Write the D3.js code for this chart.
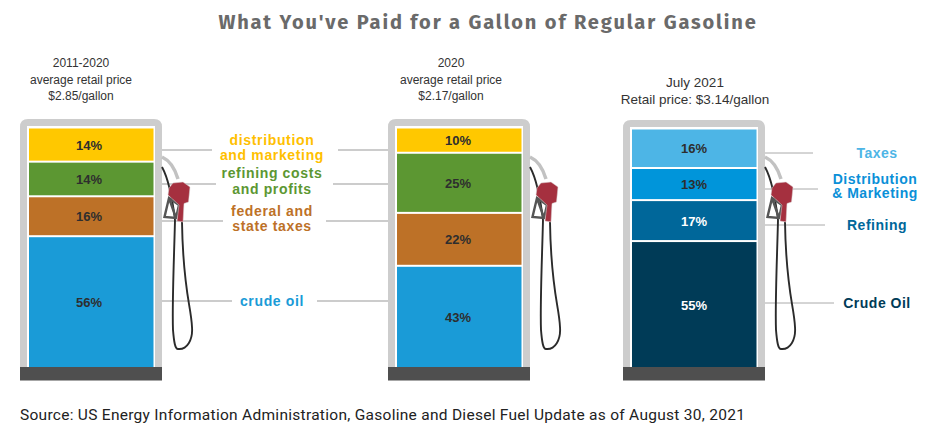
<!DOCTYPE html>
<html><head><meta charset="utf-8">
<script src="https://cdn.jsdelivr.net/npm/d3@7"></script>
<style>html,body{margin:0;padding:0;background:#fff}svg{display:block}</style>
</head><body><svg id="c" width="946" height="437"></svg>
<script>
// top-to-bottom order in each pump
const pumpHeads = [
  ["2011-2020","average retail price","$2.85/gallon"],
  ["2020","average retail price","$2.17/gallon"],
  ["July 2021","Retail price: $3.14/gallon"]
];
const labels2011 = ["14%","14%","16%","56%"];
const labels2020 = ["10%","25%","22%","43%"];
const labels2021 = ["16%","13%","17%","55%"];
// segment heights (drawn slightly off the printed labels)
const drawn2011 = [14.2,14.4,16.6,54.8];
const drawn2020 = [10.5,25,22,42.5];
const drawn2021 = [16.5,13.4,17.1,53];
const colors2011 = ["#ffc800","#5c9732","#bd7127","#1a9bd7"];
const colors2021 = ["#4db5e6","#0095da","#00679a","#003b57"];
const textColors2011 = ["#2e2e2e","#2e2e2e","#2e2e2e","#2e2e2e"];
const textColors2021 = ["#2e2e2e","#2e2e2e","#fff","#fff"];
const midLabels = [["distribution","and marketing"],["refining costs","and profits"],["federal and","state taxes"],["crude oil"]];
const midColors = ["#ffc000","#5c9732","#bd7127","#1a9bd7"];
const rightLabels = [["Taxes"],["Distribution","& Marketing"],["Refining"],["Crude Oil"]];
const rightColors = ["#4db5e6","#0a90d8","#00679a","#003b57"];
const sourceText = "Source: US Energy Information Administration, Gasoline and Diesel Fuel Update as of August 30, 2021";
const titleText = "What You've Paid for a Gallon of Regular Gasoline";

const svg = d3.select("#c");
svg.append("text").attr("x",488).attr("y",29).attr("text-anchor","middle")
  .attr("font-family","'Fira Sans','Noto Sans',sans-serif").attr("font-weight",700).attr("font-size",20)
  .attr("letter-spacing",1.85).attr("fill","#6a6a6a").text(titleText);

const pumps = [
  {x:20, top:119, drawn:drawn2011, labels:labels2011, colors:colors2011, tc:textColors2011, head:pumpHeads[0], headY:67, hx:81, hs:12, lx:89},
  {x:388,top:119, drawn:drawn2020, labels:labels2020, colors:colors2011, tc:textColors2011, head:pumpHeads[1], headY:67, hx:451, hs:12, lx:458},
  {x:623,top:120, drawn:drawn2021, labels:labels2021, colors:colors2021, tc:textColors2021, head:pumpHeads[2], headY:87, hx:695, hs:13.5, lx:694}
];

// leader lines drawn first, under the pumps
const grey = "#bbb";
const rows = [150,184,221,301];
const mid = [[162,212,338,388],[162,216,333,388],[162,223,326,388],[162,232,317,388]];
const rowsR = [153,189,225,303];
const right = [813,818,825,834];
rows.forEach((ry,i)=>{
  [[mid[i][0],mid[i][1]],[mid[i][2],mid[i][3]]].forEach(s=>
    svg.append("line").attr("x1",s[0]).attr("x2",s[1]).attr("y1",ry).attr("y2",ry).attr("stroke",grey).attr("stroke-width",1.5));
  svg.append("line").attr("x1",765).attr("x2",right[i]).attr("y1",rowsR[i]).attr("y2",rowsR[i]).attr("stroke","#aaa").attr("stroke-width",1);
});

pumps.forEach(p=>{
  const g = svg.append("g");
  const inTop = p.top+9.5, inBot = 369;
  // housing
  g.append("path").attr("fill","#cdcdcd").attr("d",
    `M${p.x},367 V${p.top+8} Q${p.x},${p.top} ${p.x+8},${p.top} H${p.x+134} Q${p.x+142},${p.top} ${p.x+142},${p.top+8} V367 Z`);
  g.append("rect").attr("x",p.x+7).attr("y",p.top+7).attr("width",128).attr("height",367-p.top-7).attr("fill","#fff");
  g.append("rect").attr("x",p.x).attr("y",367).attr("width",142).attr("height",13.5).attr("fill","#4f4f4f");

  // stack: first category on top, so the scale runs downward
  const order = p.labels.map((_,i)=>i);
  const stacked = d3.stack().keys(order).value((d,k)=>d[k])([p.drawn]);
  const y = d3.scaleLinear().domain([0,d3.sum(p.drawn)]).range([inTop,inBot]);
  const x = d3.scaleBand().domain([0]).range([p.x+9,p.x+133.5]);
  stacked.forEach((s,i)=>{
    const y0 = y(s[0][0]), y1 = y(s[0][1])-2;
    g.append("rect").attr("x",x(0)).attr("width",x.bandwidth())
      .attr("y",y0).attr("height",y1-y0).attr("fill",p.colors[i]);
    g.append("text").attr("x",p.lx).attr("y",(y0+y1)/2+5)
      .attr("text-anchor","middle").attr("font-family","'Liberation Sans',Arial,sans-serif")
      .attr("font-weight",700).attr("font-size",13).attr("fill",p.tc[i]).text(p.labels[i]);
  });

  // nozzle and hose
  const n = g.append("g").attr("transform",`translate(${p.x-20},0)`);
  n.append("path").attr("fill","none").attr("stroke","#c2c2c2").attr("stroke-width",3.5)
    .attr("d","M162,157 Q173,162 178,179");
  n.append("path").attr("fill","none").attr("stroke","#2b2b2b").attr("stroke-width",1.9)
    .attr("d","M162,167 C168,178 172,195 175,220 C174,260 172,305 173,330 C174,342 175,349 178,349 C187,350 193,340 192,327 C191,305 183,290 182,222");
  n.append("path").attr("fill","none").attr("stroke","#555").attr("stroke-width",2.4)
    .attr("d","M169,198 L164.5,217 L176,218 L179,205 Z M169,198 L176,218");
  n.append("path").attr("fill","#a5303f").attr("stroke","#d8d0d0").attr("stroke-width",.5)
    .attr("d","M173,183 L183,182 L190,187 L188.5,202 L184,203.5 L183,222 L177,221 L179,205 L168,195 L169,188 Z");
});

// pump headings
pumps.forEach(p=>{
  p.head.forEach((t,i)=>svg.append("text").attr("x",p.hx).attr("y",p.headY+i*16.5)
    .attr("text-anchor","middle").attr("font-family","'Liberation Sans',Arial,sans-serif").attr("font-size",p.hs).attr("fill","#333").text(t));
});

// category labels
const midY = [[145,159.5],[178,194],[216,231],[306]];
midLabels.forEach((ls,i)=>ls.forEach((t,j)=>svg.append("text").attr("x",272).attr("y",midY[i][j])
  .attr("text-anchor","middle").attr("font-family","'Liberation Sans',Arial,sans-serif").attr("font-weight",700)
  .attr("font-size",14).attr("letter-spacing",.65).attr("fill",midColors[i]).text(t)));
const rightX = [877,875,877,877];
const rightY = [[158],[183.5,198],[230],[308]];
rightLabels.forEach((ls,i)=>ls.forEach((t,j)=>svg.append("text").attr("x",rightX[i]).attr("y",rightY[i][j])
  .attr("text-anchor","middle").attr("font-family","'Liberation Sans',Arial,sans-serif").attr("font-weight",700)
  .attr("font-size",14).attr("letter-spacing",.5).attr("fill",rightColors[i]).text(t)));

svg.append("text").attr("x",20).attr("y",420).attr("font-family","Roboto,sans-serif")
  .attr("font-size",15.5).attr("letter-spacing",.28).attr("fill","#222").text(sourceText);
</script></body></html>
